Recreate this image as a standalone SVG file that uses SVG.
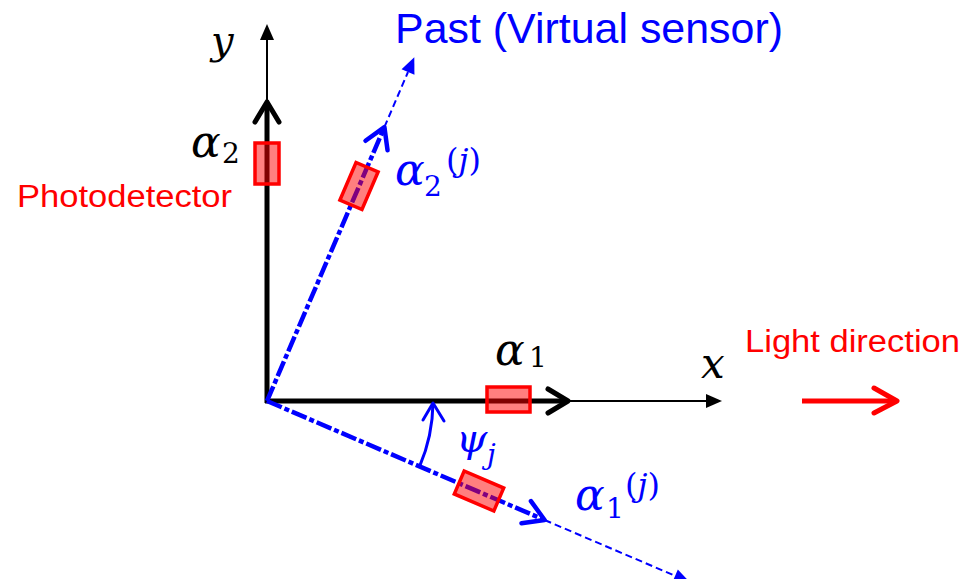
<svg xmlns="http://www.w3.org/2000/svg" width="965" height="579" viewBox="0 0 965 579">
<style>
.sans{font-family:"Liberation Sans","Open Sans",sans-serif}
.math{font-family:"DejaVu Serif","Liberation Serif",serif;font-style:italic}
.up{font-style:normal}
.red{fill:#ff0000}
.blue{fill:#0000ff}
.blk{fill:#000}
.pd{fill:#ff0000;fill-opacity:0.5;stroke:#ff0000;stroke-width:3.5}
.thickB{stroke:#000;stroke-width:5;fill:none}
.thinB{stroke:#000;stroke-width:2;fill:none}
.thickBl{stroke:#0000ff;stroke-width:4.5;fill:none;stroke-dasharray:16 3 5 3}
.thinBl{stroke:#0000ff;stroke-width:2;fill:none;stroke-dasharray:7 4}
.chev{fill:none;stroke-linecap:round;stroke-linejoin:round}
</style>
<defs>
<path id="chev" d="M-20,-12 L0,0 L-20,12"/>
<path id="tri" d="M0,0 L-16,-7 L-16,7 Z"/>
</defs>
<g id="connectors">
  <line class="thickB" x1="267" y1="403" x2="267" y2="104"/>
  <use href="#chev" transform="translate(267,102) rotate(-90)" class="chev" stroke="#000" stroke-width="5"/>
  <line class="thinB" x1="267" y1="102" x2="267" y2="38"/>
  <use href="#tri" transform="translate(267,24) rotate(-90)" fill="#000"/>
  <line class="thickB" x1="265" y1="401" x2="566" y2="401"/>
  <use href="#chev" transform="translate(568,401)" class="chev" stroke="#000" stroke-width="5"/>
  <line class="thinB" x1="568" y1="401" x2="708" y2="401"/>
  <use href="#tri" transform="translate(722,401)" fill="#000"/>
  <line class="thickBl" x1="267" y1="401" x2="384.4" y2="127.1"/>
  <use href="#chev" transform="translate(384.4,127.1) rotate(-66.8)" class="chev" stroke="#0000ff" stroke-width="4.5"/>
  <line class="thinBl" x1="384.4" y1="127.1" x2="408" y2="72"/>
  <use href="#tri" transform="translate(414.3,57.2) rotate(-66.8)" fill="#0000ff"/>
  <line class="thickBl" x1="267" y1="401" x2="544.6" y2="520"/>
  <use href="#chev" transform="translate(544.6,520) rotate(23.2)" class="chev" stroke="#0000ff" stroke-width="4.5"/>
  <line class="thinBl" x1="544.6" y1="520" x2="675" y2="575.8"/>
  <use href="#tri" transform="translate(689.8,582.2) rotate(23.2)" fill="#0000ff"/>
  <path d="M419.6,466.4 A166,166 0 0 0 433,403" fill="none" stroke="#0000ff" stroke-width="3"/>
  <path d="M423,420 L433,403 L444,421" class="chev" stroke="#0000ff" stroke-width="3"/>
  <line x1="802" y1="401" x2="894" y2="401" stroke="#ff0000" stroke-width="5"/>
  <path d="M874,388 L897,401 L874,413" class="chev" stroke="#ff0000" stroke-width="5"/>
</g>
<g id="pd-alpha2">
  <rect class="pd" x="255" y="143" width="24" height="41"/>
</g>
<g id="pd-alpha1">
  <rect class="pd" x="487" y="387" width="43" height="25"/>
</g>
<g id="pd-alpha2j">
  <rect class="pd" x="347" y="165.5" width="24" height="41" transform="rotate(23.2 359 186)"/>
</g>
<g id="pd-alpha1j">
  <rect class="pd" x="457.5" y="478.5" width="43" height="25" transform="rotate(23.2 479 491)"/>
</g>
<g id="labels">
  <text class="math blk" x="211" y="54" font-size="40">y</text>
  <text class="math blk" x="191" y="157" font-size="44">α<tspan class="up" x="222" y="163" font-size="28">2</tspan></text>
  <text class="sans red" x="17" y="207" font-size="31" textLength="215" lengthAdjust="spacingAndGlyphs">Photodetector</text>
  <text class="sans blue" x="395" y="43" font-size="42" textLength="388" lengthAdjust="spacingAndGlyphs">Past (Virtual sensor)</text>
  <text class="math blue" x="395" y="185" font-size="44">α<tspan class="up" x="424" y="196" font-size="28">2</tspan><tspan class="up" x="446" y="171" font-size="32">(</tspan><tspan font-size="32">j</tspan><tspan class="up" font-size="32">)</tspan></text>
  <text class="math blk" x="495" y="365" font-size="44">α<tspan class="up" x="529" y="367" font-size="28">1</tspan></text>
  <text class="math blk" x="701" y="378" font-size="42">x</text>
  <text class="sans red" x="745" y="352" font-size="31" textLength="215" lengthAdjust="spacingAndGlyphs">Light direction</text>
  <text class="math blue" x="456" y="452" font-size="40">ψ</text>
  <text class="math blue" x="487" y="464" font-size="28">j</text>
  <text class="math blue" x="575" y="510" font-size="44">α<tspan class="up" x="606" y="518" font-size="28">1</tspan><tspan class="up" x="625" y="496" font-size="32">(</tspan><tspan font-size="32">j</tspan><tspan class="up" font-size="32">)</tspan></text>
</g>
</svg>
